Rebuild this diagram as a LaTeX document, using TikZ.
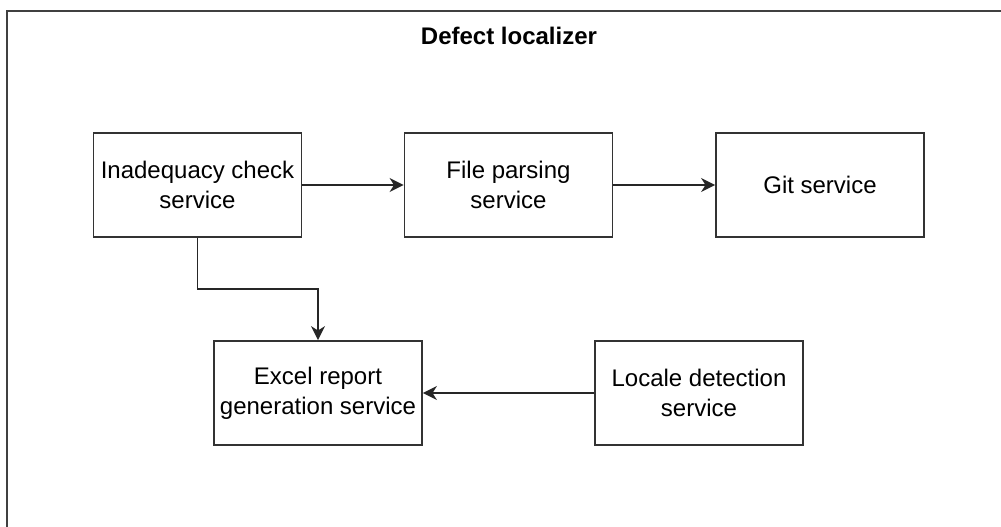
\documentclass[tikz,border=0pt]{standalone}
\usepackage{fontspec}
\setmainfont{Liberation Sans}
\usetikzlibrary{arrows.meta}

\begin{document}
\begin{tikzpicture}[
	x=0.5pt, y=-0.5pt,
	svc/.style={draw=black!80, line width=0.9pt, minimum width=104pt, minimum height=52pt,
		inner sep=0pt, align=center, font=\fontsize{12}{15}\selectfont},
	arr/.style={draw=black!85, line width=0.9pt, -{Stealth[length=7pt, width=7pt, inset=2.2pt]}},
	ttl/.style={font=\fontsize{12}{15}\selectfont\bfseries}
	]
	\useasboundingbox (0,0) rectangle (1001,526);
	% outer frame
	\draw[black!75, line width=1.3pt] (7,530) -- (7,11) -- (1005,11);
	\node[ttl] (title) at (509,36) {Defect localizer};
	% top row
	\node[svc] (ina) at (197.5,185) {Inadequacy check\\service};
	\node[svc] (parse) at (508.5,185) {File parsing\\service};
	\node[svc] (git) at (820,185) {Git service};
	% bottom row
	\node[svc] (excel) at (318,393) {Excel report\\generation service};
	\node[svc] (locale) at (699,393) {Locale detection\\service};
	\draw[arr] (ina) -- (parse);
	\draw[arr] (parse) -- (git);
	\draw[arr] (ina.south) -- ++(0,51) -| (excel.north);
	\draw[arr] (locale) -- (excel);
\end{tikzpicture}
\end{document}
